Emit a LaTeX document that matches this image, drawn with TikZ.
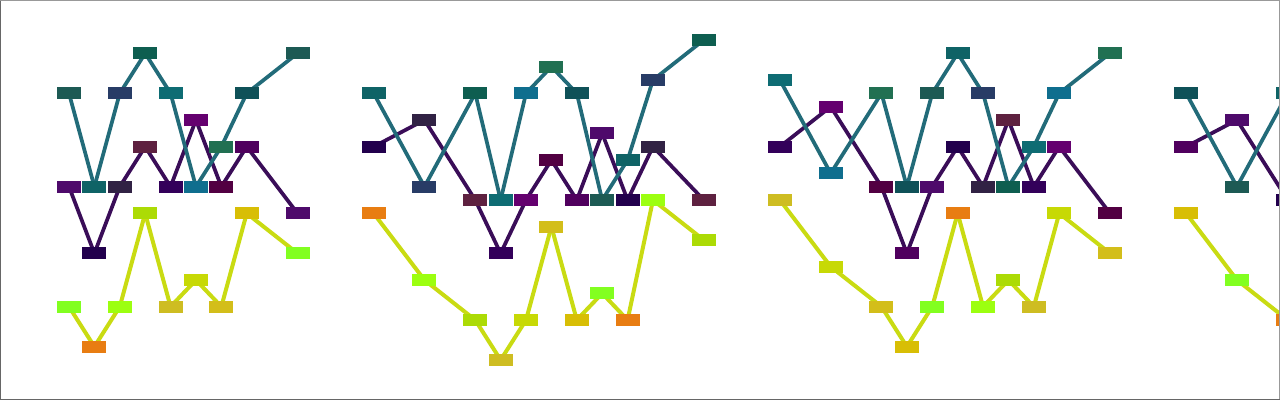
\documentclass[tikz,border=0pt]{standalone}
\definecolor{tl0}{HTML}{1D5A54}
\definecolor{tl1}{HTML}{0F6366}
\definecolor{tl2}{HTML}{283C66}
\definecolor{tl3}{HTML}{0E5E50}
\definecolor{tl4}{HTML}{0E6C73}
\definecolor{tl5}{HTML}{0F6E8E}
\definecolor{tl6}{HTML}{217052}
\definecolor{tl7}{HTML}{0F5158}
\definecolor{pu0}{HTML}{4E0A6B}
\definecolor{pu1}{HTML}{22004D}
\definecolor{pu2}{HTML}{312244}
\definecolor{pu3}{HTML}{5E2140}
\definecolor{pu4}{HTML}{33005A}
\definecolor{pu5}{HTML}{64006F}
\definecolor{pu6}{HTML}{520042}
\definecolor{pu7}{HTML}{50005E}
\definecolor{yl0}{HTML}{82FF20}
\definecolor{yl1}{HTML}{E87D12}
\definecolor{yl2}{HTML}{9CFF10}
\definecolor{yl3}{HTML}{ACDB05}
\definecolor{yl4}{HTML}{CEBD22}
\definecolor{yl5}{HTML}{C7D905}
\definecolor{yl6}{HTML}{D3BE1A}
\definecolor{yl7}{HTML}{D8BE05}
\definecolor{tlline}{HTML}{226B79}
\definecolor{puline}{HTML}{3A0D58}
\definecolor{ylline}{HTML}{C9DB12}
\pgfdeclarelayer{ylayer}
\pgfdeclarelayer{player}
\pgfdeclarelayer{tlayer}
\pgfsetlayers{ylayer,player,tlayer,main}
\begin{document}
\begin{tikzpicture}[x=19.0425pt, y=-10pt]
        \tikzstyle{every node}=[rectangle, inner sep=0pt, minimum width=18pt, minimum height=9pt];
        \tikzstyle{tline}=[line width=2.8pt, draw=tlline];
        \tikzstyle{pline}=[line width=2.8pt, draw=puline];
        \tikzstyle{yline}=[line width=3pt, draw=ylline];
        \useasboundingbox (-51.75pt,30pt) rectangle (908.25pt,-270pt);
        \clip (-51.75pt,30pt) rectangle (908.25pt,-270pt);
        % column/teal row/purple row/yellow row, per panel
        \foreach \o/\s/\pts [count=\n] in {
            0/0/{0/4/11/20, 1/11/16/23, 2/4/11/20, 3/1/8/13, 4/4/11/20, 5/11/6/18, 6/8/11/20, 7/4/8/13, 9/1/13/16},
            12/1/{0/4/8/13, 2/11/6/18, 4/4/12/21, 5/12/16/24, 6/4/12/21, 7/2/9/14, 8/4/12/21, 9/12/7/19, 10/9/12/21, 11/3/8/12, 13/0/12/15},
            28/4/{0/3/8/12, 2/10/5/17, 4/4/11/20, 5/11/16/23, 6/4/11/20, 7/1/8/13, 8/4/11/20, 9/11/6/18, 10/8/11/20, 11/4/8/13, 13/1/13/16},
            44/7/{0/4/8/13, 2/11/6/18, 4/4/12/21}}
        {
            \foreach \c/\rt/\rp/\ry [count=\i] in \pts {
                \pgfmathtruncatemacro\k{mod(\i-1+\s,8)}
                \pgfmathtruncatemacro\j{\i-1}
                \node[fill=tl\k] (t\n-\i) at (\o+\c,\rt) {};
                \node[fill=pu\k] (p\n-\i) at (\o+\c,\rp) {};
                \node[fill=yl\k] (y\n-\i) at (\o+\c,\ry) {};
                \ifnum\i>1
                    \begin{pgfonlayer}{tlayer}\draw[tline] (t\n-\j.center) -- (t\n-\i.center);\end{pgfonlayer}
                    \begin{pgfonlayer}{player}\draw[pline] (p\n-\j.center) -- (p\n-\i.center);\end{pgfonlayer}
                    \begin{pgfonlayer}{ylayer}\draw[yline] (y\n-\j.center) -- (y\n-\i.center);\end{pgfonlayer}
                \fi
            }
        }
        % frame
        \draw[black!40, line width=0.75pt] (-51.375pt,-269.625pt) -- (-51.375pt,29.625pt) -- (907.875pt,29.625pt) -- (907.875pt,-269.625pt);
        \draw[black!60, line width=0.75pt] (-51.375pt,29.625pt) -- (-51.375pt,-269.625pt) -- (907.875pt,-269.625pt);
\end{tikzpicture}
\end{document}
